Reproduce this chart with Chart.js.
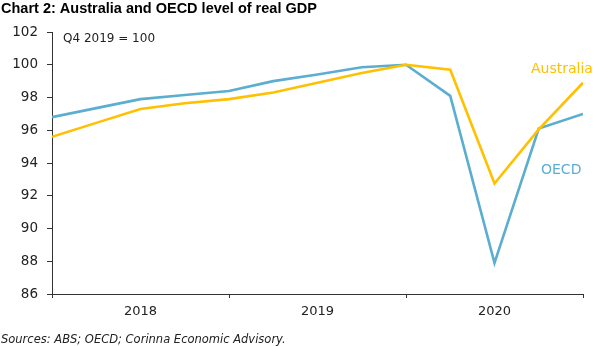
<!DOCTYPE html>
<html>
<head>
<meta charset="utf-8">
<script src="https://cdn.jsdelivr.net/npm/chart.js@4"></script>
<style>
  html, body { margin: 0; padding: 0; background: #fff; }
  #wrap { position: relative; width: 607px; height: 346px; }
</style>
</head>
<body>
<div id="wrap"><canvas id="chart" width="607" height="346"></canvas></div>
<script>
// quarterly, Q4 2017 .. Q4 2020 (Q4 2019 = 100)
const quarters = ['Q4 2017', 'Q1 2018', 'Q2 2018', 'Q3 2018', 'Q4 2018',
    'Q1 2019', 'Q2 2019', 'Q3 2019', 'Q4 2019',
    'Q1 2020', 'Q2 2020', 'Q3 2020', 'Q4 2020'];
const australia = [95.6, 96.45, 97.3, 97.65, 97.9, 98.3, 98.9, 99.5, 100, 99.7, 92.75, 96.05, 98.9];
const oecd = [96.8, 97.35, 97.9, 98.15, 98.4, 99.0, 99.4, 99.85, 100, 98.1, 87.9, 96.1, 97.0];
const yearLabels = { 2: '2018', 6: '2019', 10: '2020' };
const yTicks = [86, 88, 90, 92, 94, 96, 98, 100, 102];

const FONT = '"DejaVu Sans", sans-serif';
const AXIS = '#333333';
const GOLD = '#FFC000';
const BLUE = '#5BAED0';

const toPoints = (vals) => vals.map((v, i) => ({ x: i, y: v }));

// title, note, series labels and source line
const textPlugin = {
    id: 'texts',
    afterDraw(chart) {
        const ctx = chart.ctx;
        ctx.save();
        ctx.textBaseline = 'middle';
        ctx.textAlign = 'left';

        ctx.fillStyle = '#000';
        ctx.font = 'bold 14.5px "Liberation Sans", sans-serif';
        ctx.fillText('Chart 2: Australia and OECD level of real GDP', 1, 9);

        ctx.fillStyle = '#222';
        ctx.font = '12px ' + FONT;
        ctx.fillText('Q4 2019 = 100', 63, 39);

        ctx.font = '14px ' + FONT;
        ctx.fillStyle = GOLD;
        ctx.fillText('Australia', 531, 69);
        ctx.fillStyle = BLUE;
        ctx.fillText('OECD', 541, 170);

        ctx.fillStyle = '#222';
        ctx.font = 'italic 11.5px ' + FONT;
        ctx.fillText('Sources: ABS; OECD; Corinna Economic Advisory.', 1, 340);
        ctx.restore();
    }
};

new Chart(document.getElementById('chart').getContext('2d'), {
    type: 'line',
    data: {
        labels: quarters,
        datasets: [
            { label: 'Australia', data: toPoints(australia), borderColor: GOLD, borderWidth: 2.6 },
            { label: 'OECD', data: toPoints(oecd), borderColor: BLUE, borderWidth: 2.6 }
        ]
    },
    options: {
        responsive: false,
        animation: false,
        events: [],
        layout: { padding: { left: 0, right: 24, top: 32, bottom: 0 } },
        elements: { point: { radius: 0 }, line: { tension: 0, fill: false } },
        plugins: { legend: { display: false }, tooltip: { enabled: false } },
        scales: {
            x: {
                type: 'linear',
                min: 0,
                max: quarters.length - 1,
                afterBuildTicks: (scale) => {
                    scale.ticks = [0, 2, 4, 6, 8, 10, 12].map(v => ({ value: v }));
                },
                afterFit: (scale) => { scale.height = 52; },
                border: { display: true, color: AXIS, width: 1 },
                grid: {
                    drawOnChartArea: false,
                    drawTicks: true,
                    tickLength: 4,
                    color: (c) => (c.tick && c.tick.value % 4 === 0) ? AXIS : 'rgba(0,0,0,0)'
                },
                ticks: {
                    autoSkip: false,
                    maxRotation: 0,
                    padding: 6,
                    color: '#222',
                    font: { family: FONT, size: 13 },
                    callback: (v) => yearLabels[v] || ''
                }
            },
            y: {
                min: 86,
                max: 102,
                afterBuildTicks: (scale) => {
                    scale.ticks = yTicks.map(v => ({ value: v }));
                },
                afterFit: (scale) => { scale.width = 52; },
                border: { display: true, color: AXIS, width: 1 },
                grid: { drawOnChartArea: false, drawTicks: true, tickLength: 5, color: AXIS },
                ticks: {
                    padding: 9,
                    color: '#222',
                    font: { family: FONT, size: 13.5 }
                }
            }
        }
    },
    plugins: [textPlugin]
});
</script>
</body>
</html>
